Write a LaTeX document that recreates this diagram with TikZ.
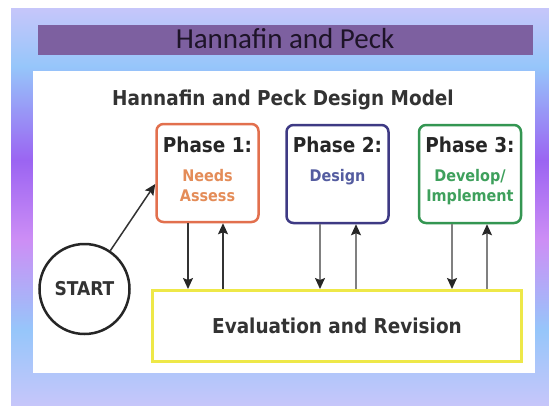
\documentclass[tikz,border=0pt]{standalone}
\usepackage{fontspec}
\setmainfont{DejaVu Sans Condensed}
\newfontfamily\barfont{Carlito}
\usetikzlibrary{arrows.meta}

\definecolor{bandlav}{RGB}{198,198,250}
\definecolor{bandblue}{RGB}{150,198,250}
\definecolor{bandpurple}{RGB}{155,100,242}
\definecolor{bandorchid}{RGB}{205,142,245}
\definecolor{barpurple}{RGB}{125,96,160}
\definecolor{barink}{RGB}{30,20,40}
\definecolor{needsorange}{RGB}{226,112,78}
\definecolor{needsink}{RGB}{228,140,88}
\definecolor{designblue}{RGB}{62,58,132}
\definecolor{designink}{RGB}{84,92,160}
\definecolor{devgreen}{RGB}{52,150,82}
\definecolor{devink}{RGB}{62,160,92}
\definecolor{evalyellow}{RGB}{238,232,72}

\tikzset{
    phasebox/.style={draw, line width=2.5pt, rounded corners=7pt, minimum width=102pt, minimum height=98pt, inner sep=0pt},
    phasehead/.style={anchor=base, font=\bfseries\fontsize{20.5}{22}\selectfont, text=black!85},
    phasetext/.style={anchor=base, font=\bfseries\fontsize{16}{18}\selectfont},
    link/.style={line width=1.5pt, -{Stealth[length=11pt, width=10pt, inset=2pt, color=black!85]}},
}

\begin{document}
\begin{tikzpicture}[x=1pt, y=-1pt]

    \useasboundingbox (0,0) rectangle (549,405);
    \fill[white] (0,0) rectangle (549,405);

    \shade[top color=bandlav, bottom color=bandblue] (11,8) rectangle (549,66.5);
    \shade[top color=bandblue, bottom color=bandpurple] (11,66) rectangle (549,160.5);
    \shade[top color=bandpurple, bottom color=bandorchid] (11,160) rectangle (549,240.5);
    \shade[top color=bandorchid, bottom color=bandblue] (11,240) rectangle (549,330.5);
    \shade[top color=bandblue, bottom color=bandlav] (11,330) rectangle (549,405);

    \fill[white] (33,71) rectangle (535,373);
    \fill[barpurple] (38,25) rectangle (533,55);

    \node[anchor=base, font=\barfont\fontsize{29}{31}\selectfont, text=barink] (bartitle) at (285,48.5) {Hannafin and Peck};
    \node[anchor=base, font=\bfseries\fontsize{20.5}{22}\selectfont, text=black!80] (modeltitle) at (283,105) {Hannafin and Peck Design Model};

    \node[phasebox, draw=needsorange] (p1) at (207.5,173) {};
    \node[phasebox, draw=designblue] (p2) at (337.5,174) {};
    \node[phasebox, draw=devgreen] (p3) at (470,174) {};

    \node[phasehead] (p1head) at (207.5,152) {Phase 1:};
    \node[phasehead] (p2head) at (337.5,152) {Phase 2:};
    \node[phasehead] (p3head) at (470,152) {Phase 3:};

    \node[phasetext, text=needsink] (needs) at (207.5,181.5) {Needs};
    \node[phasetext, text=needsink] (assess) at (207.5,201.5) {Assess};
    \node[phasetext, text=designink] (design) at (337.5,181) {Design};
    \node[phasetext, text=devink] (develop) at (470,181) {Develop/};
    \node[phasetext, text=devink] (implement) at (470,201.5) {Implement};

    \node[draw=evalyellow, line width=3pt, minimum width=369pt, minimum height=71pt, inner sep=0pt, font=\bfseries\fontsize{20.5}{22}\selectfont, text=black!80] (eval) at (337,326) {Evaluation and Revision};
    \node[circle, draw=black!85, line width=2.5pt, minimum size=90pt, inner sep=0pt, font=\bfseries\fontsize{19}{20}\selectfont, text=black!80] (start) at (84.5,289) {START};

    \draw[link, black!80] (start) -- ([yshift=-11pt]p1.west);

    \draw[link, black!80] ([xshift=-19.5pt]p1.south) -- ([xshift=-19.5pt]p1.south |- eval.north);
    \draw[link, black!80] ([xshift=15.5pt]p1.south |- eval.north) -- ([xshift=15.5pt]p1.south);
    \draw[link, black!50] ([xshift=-17.5pt]p2.south) -- ([xshift=-17.5pt]p2.south |- eval.north);
    \draw[link, black!50] ([xshift=18.5pt]p2.south |- eval.north) -- ([xshift=18.5pt]p2.south);
    \draw[link, black!50] ([xshift=-18pt]p3.south) -- ([xshift=-18pt]p3.south |- eval.north);
    \draw[link, black!50] ([xshift=17pt]p3.south |- eval.north) -- ([xshift=17pt]p3.south);

\end{tikzpicture}
\end{document}
